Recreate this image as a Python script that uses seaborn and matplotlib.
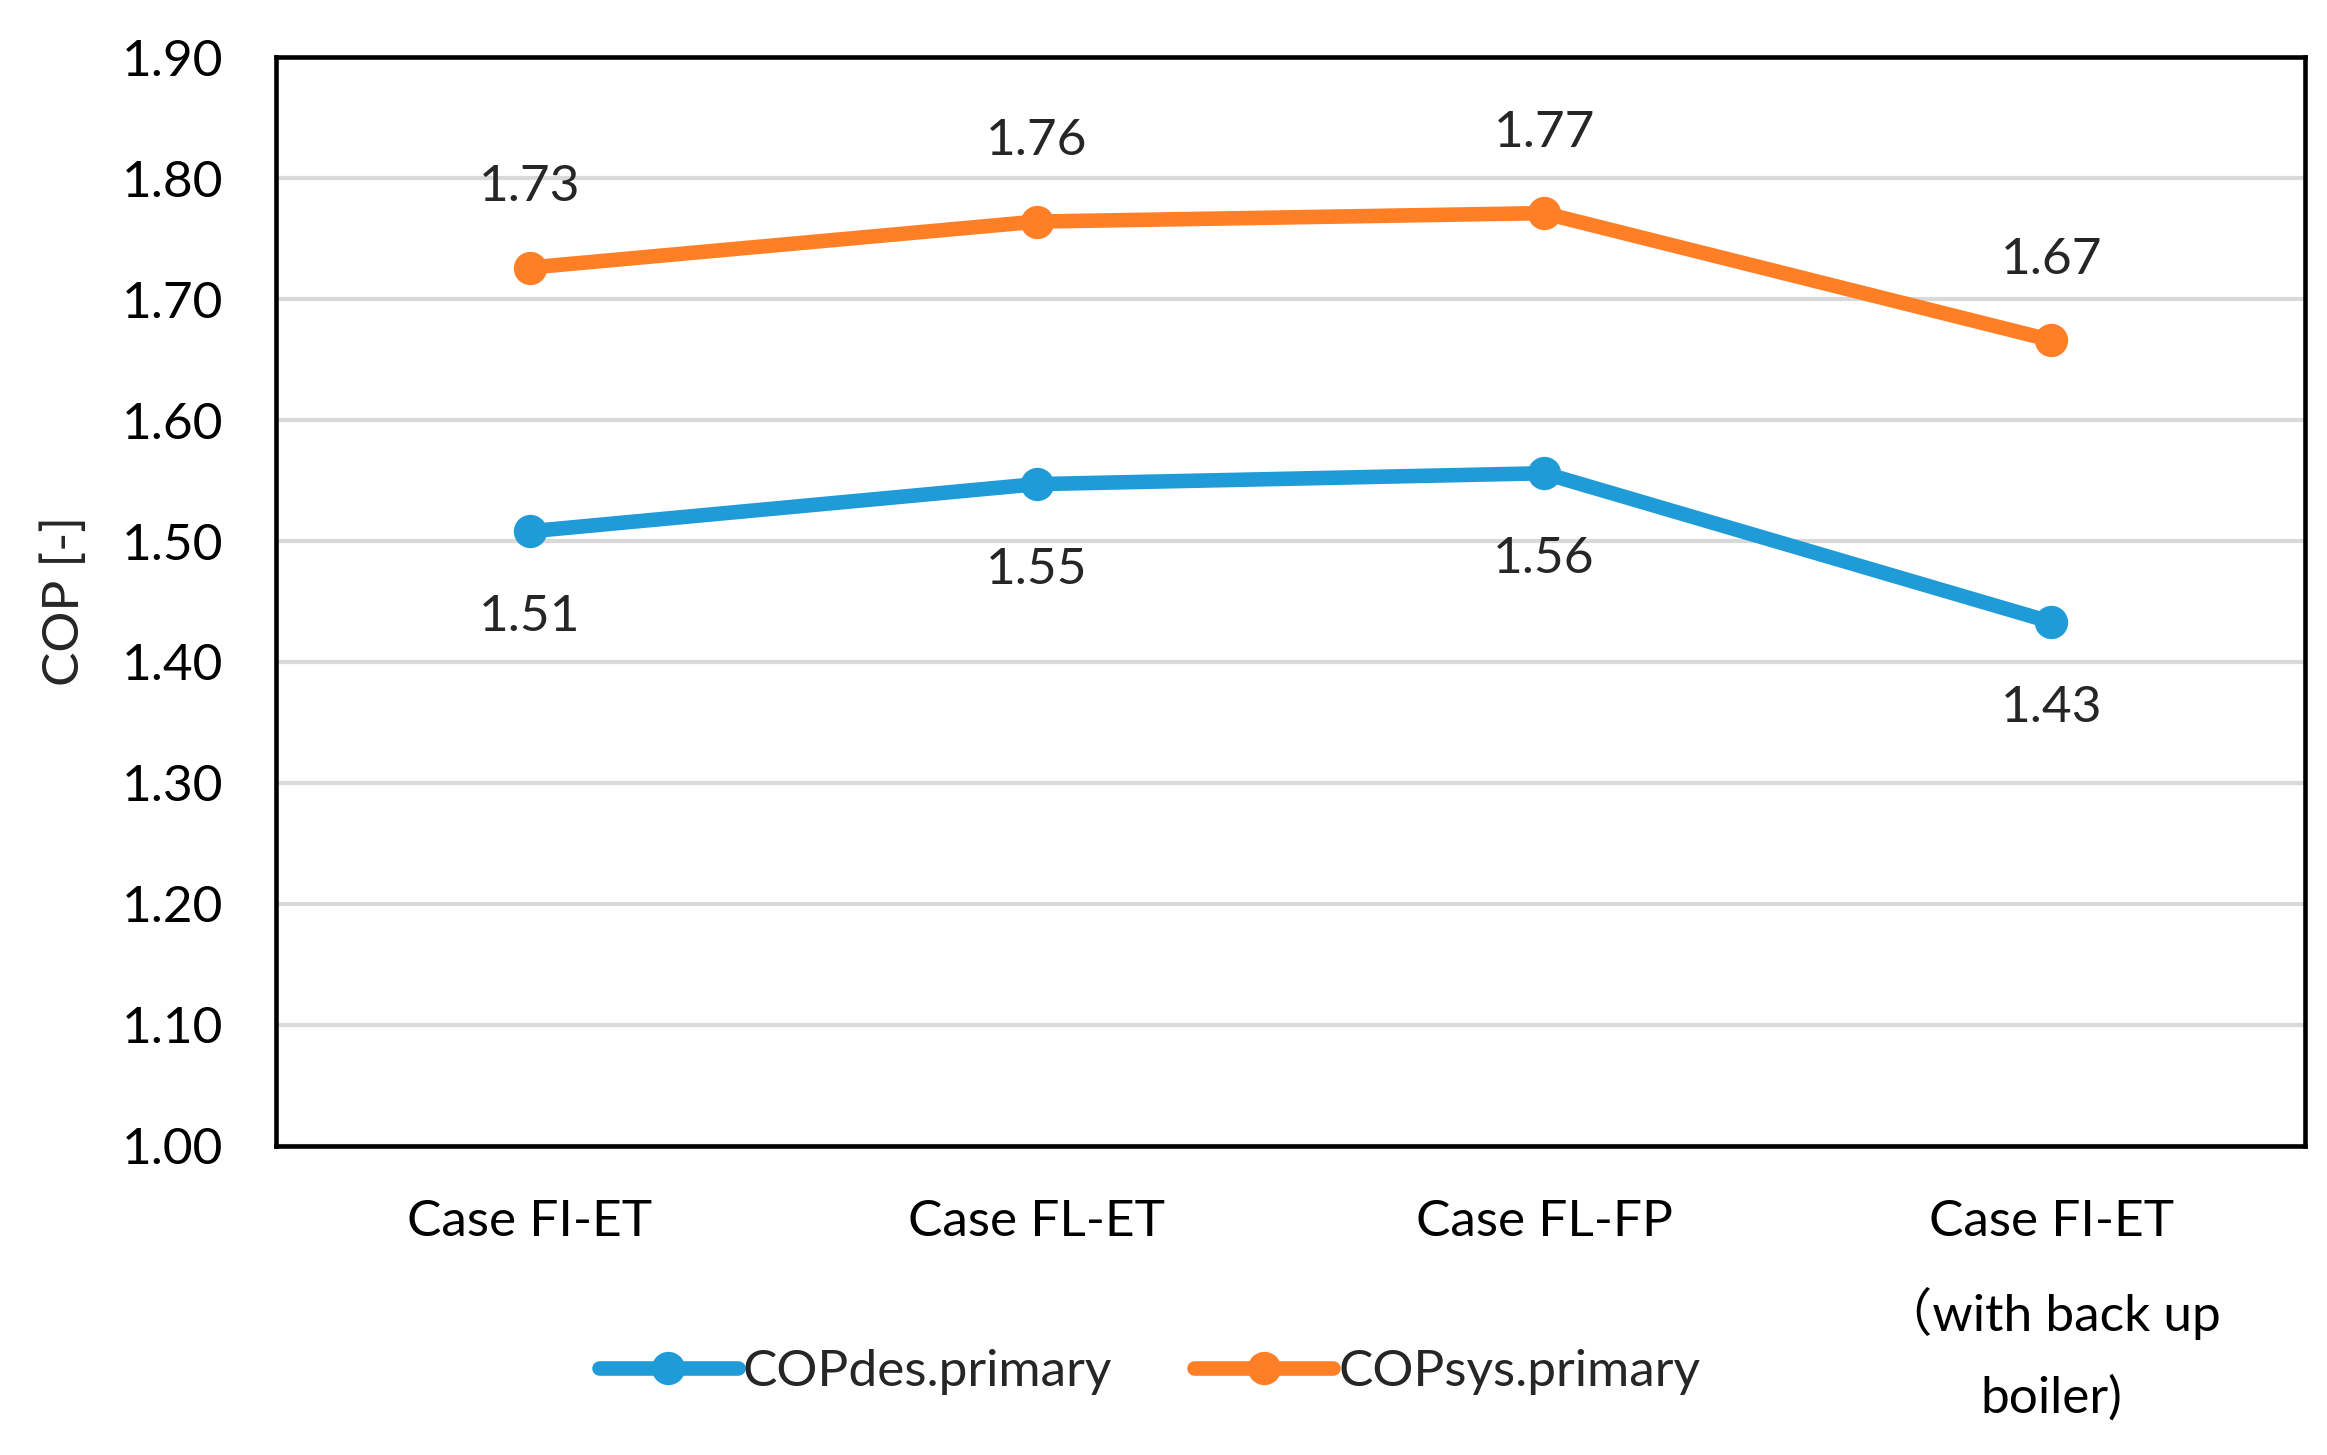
import matplotlib
matplotlib.use("Agg")
import matplotlib.pyplot as plt
import seaborn as sns
import pandas as pd
import numpy as np

categories = ["Case FI-ET", "Case FL-ET", "Case FL-FP", "Case FI-ET\n（with back up\nboiler)"]
cop_des = [1.508, 1.547, 1.556, 1.433]
cop_sys = [1.726, 1.764, 1.771, 1.666]
series_names = ["COPdes.primary", "COPsys.primary"]
yticks = [1.00, 1.10, 1.20, 1.30, 1.40, 1.50, 1.60, 1.70, 1.80, 1.90]

sns.set_style("white")
plt.rcParams['font.family'] = ['Lato', 'Noto Sans CJK JP', 'DejaVu Sans']

df = pd.DataFrame({
    "x": list(range(len(categories))) * 2,
    "value": cop_des + cop_sys,
    "series": [series_names[0]] * 4 + [series_names[1]] * 4,
})

colors = {"COPdes.primary": "#1f9bd8", "COPsys.primary": "#ff7f27"}
FS = 37

fig = plt.figure(figsize=(23.27, 14.55), dpi=100)
ax = fig.add_axes([0.1186, 0.2124, 0.8719, 0.7484])

sns.lineplot(data=df, x="x", y="value", hue="series", palette=colors,
             marker="o", markersize=24, markeredgewidth=0, linewidth=10.5,
             ax=ax, legend=True)

ax.set_xlim(-0.5, 3.5)
ax.set_ylim(1.0, 1.9)
ax.set_yticks(yticks)
ax.set_yticklabels([f"{v:.2f}" for v in yticks])
ax.set_xticks(range(len(categories)))
ax.set_xticklabels(categories, linespacing=1.95)
ax.tick_params(axis="both", length=0, labelsize=FS, colors="black")
ax.tick_params(axis="x", pad=38)
ax.tick_params(axis="y", pad=38)
ax.set_xlabel("")
ax.set_ylabel("COP [-]", fontsize=FS, labelpad=24)

ax.grid(axis="y", color="#d9d9d9", linewidth=3)
ax.set_axisbelow(True)
for sp in ax.spines.values():
    sp.set_color("black")
    sp.set_linewidth(3.3)

for i, v in enumerate(cop_sys):
    ax.annotate(f"{v:.2f}", (i, v), xytext=(0, 58), textcoords="offset points",
                ha="center", va="center", fontsize=FS)
for i, v in enumerate(cop_des):
    ax.annotate(f"{v:.2f}", (i, v), xytext=(0, -62), textcoords="offset points",
                ha="center", va="center", fontsize=FS)

handles, labels = ax.get_legend_handles_labels()
ax.get_legend().remove()
fig.legend(handles, labels, loc="center", bbox_to_anchor=(0.494, 0.057), ncol=2,
           frameon=False, fontsize=FS, handlelength=2.7, handletextpad=0.1,
           columnspacing=1.6)

fig.savefig("out.png", dpi=100)
